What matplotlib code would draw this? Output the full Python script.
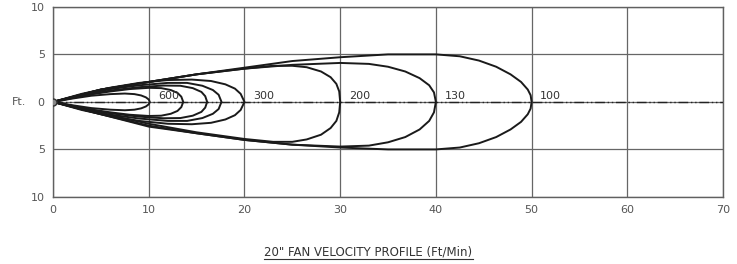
import numpy as np
import matplotlib.pyplot as plt
from matplotlib.lines import Line2D

# velocity contours (Ft/Min)
labels = ["600", "", "", "", "300", "200", "130", "100"]

x_600 = [0, 2, 4, 6, 7.5, 8.5, 9.2, 9.7, 10.0, 10.1]
u_600 = [0, 0.35, 0.65, 0.82, 0.88, 0.82, 0.68, 0.48, 0.25, 0]

x_c2 = [0, 2, 4, 6, 8, 10, 11.3, 12.3, 13.0, 13.4, 13.6]
u_c2 = [0, 0.4, 0.8, 1.1, 1.35, 1.48, 1.45, 1.25, 0.95, 0.55, 0]

x_c3 = [0, 3, 6, 9, 11.5, 13.3, 14.6, 15.5, 15.9, 16.1]
u_c3 = [0, 0.65, 1.2, 1.55, 1.72, 1.7, 1.45, 1.05, 0.6, 0]

x_c4 = [0, 3, 6, 9, 12, 14, 15.6, 16.7, 17.3, 17.6]
u_c4 = [0, 0.75, 1.35, 1.75, 2.0, 2.0, 1.7, 1.25, 0.75, 0]

x_300 = [0, 3, 6, 9, 12, 14.5, 16.5, 18.0, 19.0, 19.6, 20]
u_300 = [0, 0.85, 1.5, 2.0, 2.3, 2.35, 2.2, 1.85, 1.4, 0.85, 0]

x_200 = [0, 5, 10, 15, 20, 23, 25, 26.5, 28.0, 29.0, 29.6, 29.9, 30]
u_200 = [0, 1.3, 2.1, 2.9, 3.5, 3.8, 3.8, 3.65, 3.2, 2.6, 1.9, 1.1, 0]
l_200 = [0, -1.2, -2.3, -3.2, -3.9, -4.2, -4.2, -3.95, -3.45, -2.75, -2.0, -1.1, 0]

x_130 = [0, 5, 10, 15, 20, 25, 30, 33, 35, 36.8, 38.3, 39.3, 39.8, 40]
u_130 = [0, 1.3, 2.1, 2.9, 3.5, 3.9, 4.1, 4.0, 3.7, 3.2, 2.5, 1.75, 1.0, 0]
l_130 = [0, -1.3, -2.5, -3.3, -4.0, -4.5, -4.7, -4.6, -4.25, -3.7, -2.9, -2.0, -1.1, 0]

x_100 = [0, 5, 10, 15, 20, 25, 30, 35, 40, 42.5, 44.5, 46.3, 47.8, 48.9, 49.6, 49.9, 50]
u_100 = [0, 1.3, 2.1, 2.9, 3.6, 4.3, 4.7, 5.0, 5.0, 4.8, 4.35, 3.7, 2.9, 2.1, 1.3, 0.7, 0]
l_100 = [0, -1.3, -2.6, -3.3, -4.0, -4.5, -4.8, -5.0, -5.0, -4.8, -4.35, -3.7, -2.9, -2.1, -1.3, -0.7, 0]

contours = [
    (x_600, u_600, None),
    (x_c2, u_c2, None),
    (x_c3, u_c3, None),
    (x_c4, u_c4, None),
    (x_300, u_300, None),
    (x_200, u_200, l_200),
    (x_130, u_130, l_130),
    (x_100, u_100, l_100),
]

x_ticks = [0, 10, 20, 30, 40, 50, 60, 70]
y_ticks = [10, 5, 0, -5, -10]
y_ticklabels = ["10", "5", "0", "5", "10"]

fig = plt.figure(figsize=(7.37, 2.64), dpi=100)
ax = fig.add_axes([0.072, 0.254, 0.909, 0.72])

ax.set_xlim(0, 70)
ax.set_ylim(-10, 10)
ax.set_xticks(x_ticks)
ax.set_yticks(y_ticks)
ax.set_yticklabels(y_ticklabels)
ax.tick_params(length=0, labelsize=8, colors="#555555", pad=6)
ax.grid(True, color="#666666", linewidth=0.9)
for s in ax.spines.values():
    s.set_color("#606060")
    s.set_linewidth(1.0)

# centre line
ax.plot([0, 70], [0, 0], color="#222222", linewidth=1.0,
        linestyle=(0, (7, 2, 1, 2, 1, 2)), zorder=3)

for (xs, up, lo), lab in zip(contours, labels):
    if lo is None:
        lo = [-v for v in up]
    xx = list(xs) + list(xs[::-1])
    yy = list(up) + list(lo[::-1])
    ax.plot(xx, yy, color="#1a1a1a", linewidth=1.4, zorder=4)
    if lab:
        ax.text(xs[-1] + 0.9, 0.05, lab, fontsize=8, color="#333333",
                ha="left", va="bottom", zorder=5)

ax.plot(0, 0, "o", markersize=5, color="#888888", markeredgecolor="#333333", zorder=6)

fig.text(12 / 737, 1 - 102 / 264, "Ft.", fontsize=8,
         color="#555555", ha="left", va="center")

title = fig.text(0.50, 0.022, '20" FAN VELOCITY PROFILE (Ft/Min)', fontsize=8.5,
                 color="#333333", ha="center", va="bottom")

fig.canvas.draw()
bb = title.get_window_extent()
inv = fig.transFigure.inverted()
(x0, y0), (x1, _) = inv.transform([(bb.x0, bb.y0 - 1), (bb.x1, bb.y0 - 1)])
fig.add_artist(Line2D([x0, x1], [y0, y0], transform=fig.transFigure,
                      color="#333333", linewidth=0.8))

fig.savefig("out.png", dpi=100)
